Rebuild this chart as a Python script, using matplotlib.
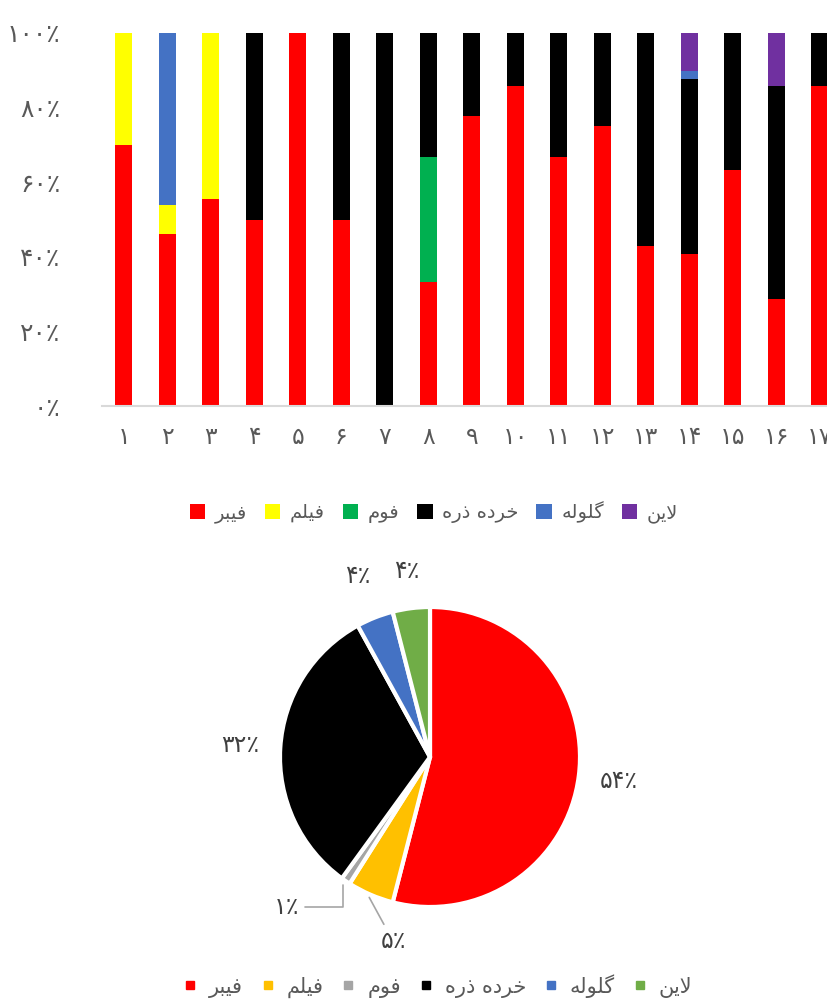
import matplotlib
matplotlib.use('Agg')
import matplotlib.pyplot as plt
import numpy as np
from matplotlib.patches import Patch
from matplotlib.lines import Line2D

plt.rcParams['font.family'] = ['DejaVu Sans']

# داده‌ها
samples = ['1', '2', '3', '4', '5', '6', '7', '8', '9', '10', '11', '12', '13', '14', '15', '16', '17']
fiber = [70, 46, 55.5, 50, 100, 50, 0, 33.3, 77.7, 85.7, 66.7, 75, 42.9, 40.8, 63.3, 28.6, 85.7]
film = [30, 7.9, 44.5, 0, 0, 0, 0, 0, 0, 0, 0, 0, 0, 0, 0, 0, 0]
foam = [0, 0, 0, 0, 0, 0, 0, 33.4, 0, 0, 0, 0, 0, 0, 0, 0, 0]
fragment = [0, 0, 0, 50, 0, 50, 100, 33.3, 22.3, 14.3, 33.3, 25, 57.1, 47.0, 36.7, 57.1, 14.3]
pellet = [0, 46.1, 0, 0, 0, 0, 0, 0, 0, 0, 0, 0, 0, 2.0, 0, 0, 0]
line = [0, 0, 0, 0, 0, 0, 0, 0, 0, 0, 0, 0, 0, 10.2, 0, 14.3, 0]

type_names = ['فیبر', 'فیلم', 'فوم', 'خرده ذره', 'گلوله', 'لاین']
bar_colors = ['#FF0000', '#FFFF00', '#00B050', '#000000', '#4472C4', '#7030A0']

pie_values = [54, 5, 1, 32, 4, 4]
pie_colors = ['#FF0000', '#FFC000', '#A5A5A5', '#000000', '#4472C4', '#70AD47']

# شکل‌دهی حروف فارسی (matplotlib حروف را به هم نمی‌چسباند)
FORMS = {
    'ا': ('\uFE8D', '\uFE8E', None, None),
    'ب': ('\uFE8F', '\uFE90', '\uFE91', '\uFE92'),
    'خ': ('\uFEA5', '\uFEA6', '\uFEA7', '\uFEA8'),
    'د': ('\uFEA9', '\uFEAA', None, None),
    'ذ': ('\uFEAB', '\uFEAC', None, None),
    'ر': ('\uFEAD', '\uFEAE', None, None),
    'ف': ('\uFED1', '\uFED2', '\uFED3', '\uFED4'),
    'ل': ('\uFEDD', '\uFEDE', '\uFEDF', '\uFEE0'),
    'م': ('\uFEE1', '\uFEE2', '\uFEE3', '\uFEE4'),
    'ن': ('\uFEE5', '\uFEE6', '\uFEE7', '\uFEE8'),
    'ه': ('\uFEE9', '\uFEEA', '\uFEEB', '\uFEEC'),
    'و': ('\uFEED', '\uFEEE', None, None),
    'ی': ('\uFBFC', '\uFBFD', '\uFBFE', '\uFBFF'),
    'گ': ('\uFB92', '\uFB93', '\uFB94', '\uFB95'),
}


def dual(c):
    return c in FORMS and FORMS[c][2] is not None


def fa(text):
    chars = list(text)
    out = []
    i = 0
    while i < len(chars):
        c = chars[i]
        if c not in FORMS:
            out.append(c)
            i += 1
            continue
        joins_prev = i > 0 and dual(chars[i - 1])
        if c == 'ل' and i + 1 < len(chars) and chars[i + 1] == 'ا':
            out.append('\uFEFC' if joins_prev else '\uFEFB')
            i += 2
            continue
        joins_next = dual(c) and i + 1 < len(chars) and chars[i + 1] in FORMS
        iso, fin, ini, med = FORMS[c]
        if joins_prev and joins_next:
            out.append(med)
        elif joins_prev:
            out.append(fin)
        elif joins_next:
            out.append(ini)
        else:
            out.append(iso)
        i += 1
    return ''.join(reversed(out))


DIGITS = str.maketrans('0123456789', '۰۱۲۳۴۵۶۷۸۹')


def fa_num(s):
    return str(s).translate(DIGITS)


text_gray = '#595959'
fig = plt.figure(figsize=(8.28, 10), dpi=100)

# نمودار ستونی
ax = fig.add_axes([102 / 828, 0.594, 17 * 43.5 / 828, 0.373])
x = np.arange(len(samples))
bottom = np.zeros(len(samples))
series = [fiber, film, foam, fragment, pellet, line]
for vals, col in zip(series, bar_colors):
    v = np.array(vals) / 100
    ax.bar(x, v, 0.4, bottom=bottom, color=col, edgecolor='none')
    bottom += v

ax.set_xlim(-0.5, len(samples) - 0.5)
ax.set_ylim(0, 1)
ax.set_yticks(np.arange(0, 1.01, 0.2))
ax.set_yticklabels([fa_num(int(round(t * 100))) + '٪' for t in np.arange(0, 1.01, 0.2)])
ax.set_xticks(x)
ax.set_xticklabels([fa_num(s) for s in samples])
ax.tick_params(axis='y', length=0, pad=30, labelsize=18, colors=text_gray)
ax.tick_params(axis='x', length=0, pad=14, labelsize=17, colors=text_gray)
for s in ['top', 'right', 'left']:
    ax.spines[s].set_visible(False)
ax.spines['bottom'].set_color('#D9D9D9')
ax.spines['bottom'].set_linewidth(1.5)

handles = [Patch(facecolor=c) for c in bar_colors]
fig.legend(handles, [fa(n) for n in type_names], loc='center', ncol=6,
           bbox_to_anchor=(434 / 828, 0.488), frameon=False, fontsize=14,
           handlelength=0.8, handleheight=0.8, handletextpad=0.5, columnspacing=0.9,
           labelcolor=text_gray)

# نمودار دایره‌ای
pax = fig.add_axes([230 / 828, 0.043, 400 / 828, 0.4])
wedges, _ = pax.pie(pie_values, colors=pie_colors, startangle=90, counterclock=False,
                    wedgeprops=dict(edgecolor='white', linewidth=3))
r = 4 / 3
pax.set_xlim(-r, r)
pax.set_ylim(-r, r)
pax.set_aspect('equal')

label_r = [1.27, 1.24, 1.3, 1.27, 1.3, 1.25]
for i, (w, v) in enumerate(zip(wedges, pie_values)):
    mid = np.deg2rad((w.theta1 + w.theta2) / 2)
    if i == 1:
        pax.annotate(fa_num(v) + '٪', xy=(np.cos(mid) * 1.02, np.sin(mid) * 1.02),
                     xytext=(-0.33, -1.23), fontsize=17, color='#404040',
                     ha='left', va='center',
                     arrowprops=dict(arrowstyle='-', color='#A5A5A5', lw=1.2,
                                     shrinkA=2, shrinkB=0))
    elif i == 2:
        pax.annotate(fa_num(v) + '٪', xy=(np.cos(mid) * 1.03, np.sin(mid) * 1.03),
                     xytext=(-0.87, -1.0), fontsize=17, color='#404040',
                     ha='right', va='center',
                     arrowprops=dict(arrowstyle='-', color='#A5A5A5', lw=1.2,
                                     shrinkA=2, shrinkB=0,
                                     connectionstyle='angle,angleA=0,angleB=90'))
    else:
        pax.text(np.cos(mid) * label_r[i], np.sin(mid) * label_r[i], fa_num(v) + '٪',
                 fontsize=17, color='#404040', ha='center', va='center')

pie_handles = [Line2D([], [], marker='s', linestyle='none', markersize=6,
                      markerfacecolor=c, markeredgecolor=c) for c in pie_colors]
fig.legend(pie_handles, [fa(n) for n in type_names], loc='center', ncol=6,
           bbox_to_anchor=(438 / 828, 0.014), frameon=False, fontsize=15,
           handlelength=0.6, handletextpad=0.6, columnspacing=0.9,
           labelcolor=text_gray)

fig.savefig('out.png', dpi=100)
